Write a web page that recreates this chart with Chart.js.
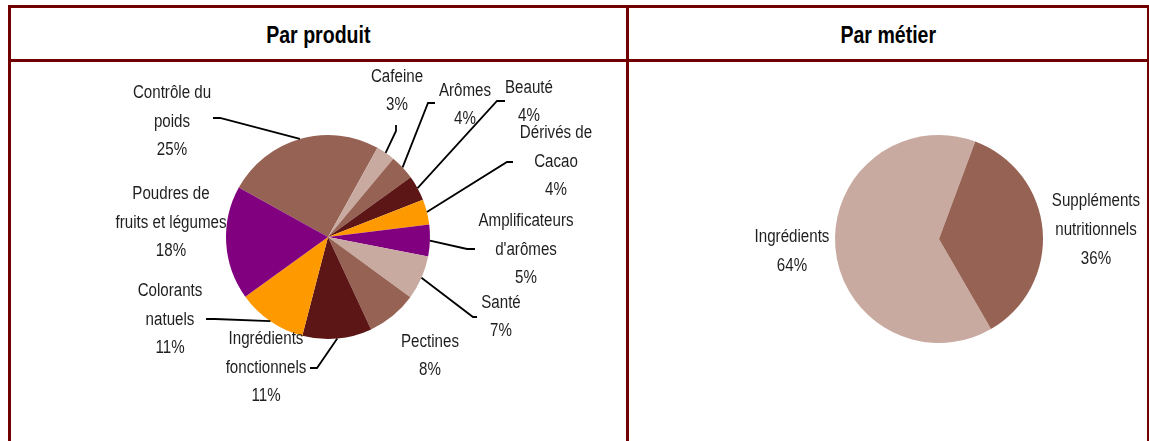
<!DOCTYPE html>
<html>
<head>
<meta charset="utf-8">
<script src="https://cdn.jsdelivr.net/npm/chart.js@4"></script>
<style>
  body { margin: 0; background: #fff; width: 1149px; height: 441px; overflow: hidden; position: relative; }
  .rule { position: absolute; background: #720000; }
  .title { position: absolute; top: 8px; height: 51px; line-height: 54px; text-align: center;
           font-family: "Liberation Sans", Arial, sans-serif; font-weight: bold; font-size: 23px; color: #000; }
  .title span { display: inline-block; transform: scaleX(0.85); }
  canvas { position: absolute; }
</style>
</head>
<body>

<div class="rule" style="left:8px;top:5px;width:1142px;height:3px"></div>
<div class="rule" style="left:8px;top:59px;width:1142px;height:3px"></div>
<div class="rule" style="left:8px;top:5px;width:3px;height:436px"></div>
<div class="rule" style="left:626px;top:5px;width:3px;height:436px"></div>
<div class="rule" style="left:1147px;top:5px;width:3px;height:436px"></div>

<div class="title" style="left:11px;width:615px"><span>Par produit</span></div>
<div class="title" style="left:629px;width:518px"><span>Par métier</span></div>

<canvas id="chartProduit" width="615" height="379" style="left:11px;top:62px"></canvas>
<canvas id="chartMetier" width="518" height="379" style="left:629px;top:62px"></canvas>

<script>
// donnees
var produitLabels = [
  ['Contrôle du', 'poids'],
  ['Cafeine'],
  ['Arômes'],
  ['Beauté'],
  ['Dérivés de', 'Cacao'],
  ['Amplificateurs', "d'arômes"],
  ['Santé'],
  ['Pectines'],
  ['Ingrédients', 'fonctionnels'],
  ['Colorants', 'natuels'],
  ['Poudres de', 'fruits et légumes']
];
var produitValues = [25, 3, 4, 4, 4, 5, 7, 8, 11, 11, 18];
var produitColors = ['#966253', '#c9aaa0', '#966253', '#5c1616', '#ff9900', '#800080',
                     '#c9aaa0', '#966253', '#5c1616', '#ff9900', '#800080'];

var metierLabels = [['Ingrédients'], ['Suppléments', 'nutritionnels']];
var metierValues = [64, 36];
var metierColors = ['#c9aaa0', '#966253'];

// labels + lignes de rappel
var pieLabels = {
  id: 'pieLabels',
  afterDatasetsDraw: function(chart, args, opts) {
    var ctx = chart.ctx;
    var meta = chart.getDatasetMeta(0);
    var values = chart.data.datasets[0].data;
    ctx.save();
    ctx.font = opts.font;
    ctx.fillStyle = '#1e1e1e';
    ctx.strokeStyle = '#000';
    ctx.lineWidth = 1.8;
    ctx.textAlign = 'center';
    ctx.textBaseline = 'middle';
    meta.data.forEach(function(arc, i) {
      var p = arc.getProps(['x', 'y', 'startAngle', 'endAngle', 'outerRadius'], true);
      var mid = (p.startAngle + p.endAngle) / 2;
      var lines = chart.data.labels[i].concat(values[i] + '%');
      var off = opts.offsets[i];
      lines.forEach(function(t, k) {
        var ly = p.y + off[1] + (k - (lines.length - 1) / 2) * opts.lineHeight;
        ctx.save();
        ctx.translate(p.x + off[0], ly);
        ctx.scale(0.84, 1);
        ctx.fillText(t, 0, 0);
        ctx.restore();
      });
      var lead = opts.leaders ? opts.leaders[i] : null;
      if (lead) {
        ctx.beginPath();
        ctx.moveTo(p.x + Math.cos(mid) * p.outerRadius, p.y + Math.sin(mid) * p.outerRadius);
        for (var j = lead.length - 1; j >= 0; j--) {
          ctx.lineTo(p.x + lead[j][0], p.y + lead[j][1]);
        }
        ctx.stroke();
      }
    });
    ctx.restore();
  }
};

function pieChart(id, labels, values, colors, rotation, radius, padding, labelOpts) {
  return new Chart(document.getElementById(id), {
    type: 'pie',
    data: {
      labels: labels,
      datasets: [{
        data: values,
        backgroundColor: colors,
        borderWidth: 0,
        hoverOffset: 0
      }]
    },
    options: {
      responsive: false,
      animation: false,
      rotation: rotation,
      radius: radius,
      layout: { padding: padding },
      plugins: {
        legend: { display: false },
        tooltip: { enabled: false },
        pieLabels: labelOpts
      }
    },
    plugins: [pieLabels]
  });
}

pieChart('chartProduit', produitLabels, produitValues, produitColors, -61, 102,
  { left: 215, right: 196, top: 73, bottom: 102 },
  {
    font: '18px "Liberation Sans", Arial, sans-serif',
    lineHeight: 28.5,
    offsets: [[-156, -115], [69, -146], [137, -132], [201, -135], [228, -75], [198, 13],
              [173, 80], [102, 119], [-62, 131], [-158, 83], [-157, -14]],
    leaders: [
      [[-115, -119], [-108, -119]],
      [[68, -112], [68, -106]],
      [[107, -134], [100, -134]],
      [[177, -136], [169, -136]],
      [[185, -75], [179, -75]],
      [[147, 12], [139, 12]],
      [[149, 80], [145, 80]],
      null,
      [[-18, 131], [-11, 131]],
      [[-122, 82], [-113, 82]],
      null
    ]
  });

pieChart('chartMetier', metierLabels, metierValues, metierColors, 150, 104,
  { left: 206, right: 104, top: 73, bottom: 98 },
  {
    font: '18px "Liberation Sans", Arial, sans-serif',
    lineHeight: 29,
    offsets: [[-147, 13], [157, -9]],
    leaders: null
  });
</script>
</body>
</html>
